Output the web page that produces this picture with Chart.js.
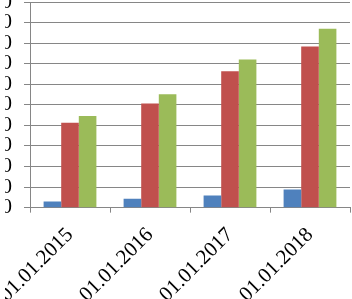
<!DOCTYPE html>
<html>
<head>
<meta charset="utf-8">
<script src="https://cdn.jsdelivr.net/npm/chart.js@4"></script>
<style>
  html, body { margin: 0; padding: 0; background: #fff; overflow: hidden; width: 352px; height: 299px; }
  #clip { position: absolute; left: 5px; top: 0; width: 347px; height: 299px; overflow: hidden; }
  #wrap { position: absolute; left: -45px; top: -11.35px; width: 392px; height: 320px; }
</style>
</head>
<body>
<div id="clip"><div id="wrap"><canvas id="chart"></canvas></div></div>
<script>
const categories = ['01.01.2015', '01.01.2016', '01.01.2017', '01.01.2018'];
const seriesBlue = [30, 43, 59, 88];
const seriesRed = [413, 507, 663, 784];
const seriesGreen = [446, 552, 720, 870];
const yMax = 1000;
const yStep = 100;

const gridColor = '#868686';
const family = '"Liberation Serif", "Times New Roman", serif';

new Chart(document.getElementById('chart'), {
  type: 'bar',
  data: {
    labels: categories,
    datasets: [
      { data: seriesBlue, backgroundColor: '#4F81BD' },
      { data: seriesRed, backgroundColor: '#C0504D' },
      { data: seriesGreen, backgroundColor: '#9BBB59' }
    ]
  },
  options: {
    responsive: true,
    maintainAspectRatio: false,
    animation: false,
    layout: { padding: { top: 0, right: 2, bottom: 0, left: 0 } },
    plugins: { legend: { display: false }, tooltip: { enabled: false } },
    datasets: { bar: { categoryPercentage: 0.66, barPercentage: 1.0 } },
    scales: {
      x: {
        grid: { offset: true, drawOnChartArea: false, drawTicks: true, tickLength: 5, color: gridColor },
        border: { color: gridColor },
        ticks: { color: '#000', font: { family: family, size: 21 }, minRotation: 45, maxRotation: 45, padding: 10, labelOffset: 0, autoSkip: false },
        afterFit: (scale) => { scale.height = 101.35; }
      },
      y: {
        min: 0,
        max: yMax,
        grid: { color: gridColor, tickLength: 6 },
        border: { color: gridColor },
        // tiny lineHeight so the top label does not push the plot down
        ticks: { stepSize: yStep, color: '#000', font: { family: family, size: 21, lineHeight: 0.1 }, padding: 12, autoSkip: false },
        afterFit: (scale) => { scale.width = 70; }
      }
    }
  }
});
</script>
</body>
</html>
